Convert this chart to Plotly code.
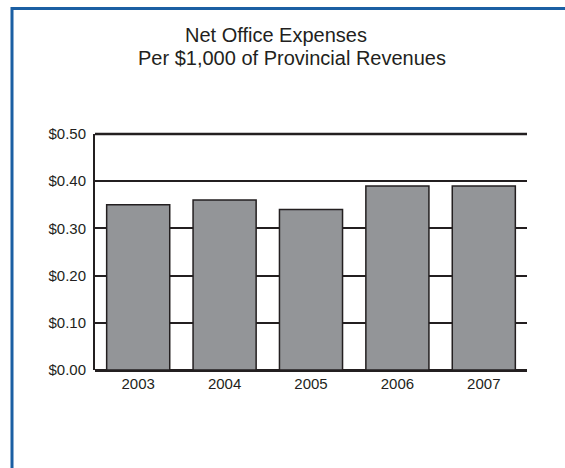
import plotly.graph_objects as go

# Net office expenses per $1,000 of provincial revenues
years = ["2003", "2004", "2005", "2006", "2007"]
expense_per_1000 = [0.35, 0.36, 0.34, 0.39, 0.39]
y_ticks = [0.0, 0.1, 0.2, 0.3, 0.4, 0.5]
y_tick_labels = ["$0.00", "$0.10", "$0.20", "$0.30", "$0.40", "$0.50"]

W, H = 565, 468
ML, MR, MT, MB = 95, 38, 134, 98
PW, PH = W - ML - MR, H - MT - MB

INK = "#231f20"
BLUE = "#1b5fa3"
FONT = "Liberation Sans, Arial, sans-serif"


def px_to_paper_x(px):
    return (px - ML) / PW


def px_to_paper_y(py):
    return (H - MB - py) / PH


fig = go.Figure(
    go.Bar(
        x=years,
        y=expense_per_1000,
        marker=dict(color="#939598", line=dict(color=INK, width=1.5)),
        width=0.73,
    )
)

fig.update_layout(
    width=W,
    height=H,
    margin=dict(l=ML, r=MR, t=MT, b=MB, pad=0),
    paper_bgcolor="white",
    plot_bgcolor="white",
    showlegend=False,
    font=dict(family=FONT, color=INK),
    xaxis=dict(
        type="category",
        showgrid=False,
        showline=False,
        ticks="",
        ticklabelstandoff=3,
        tickfont=dict(size=15, color=INK),
        fixedrange=True,
    ),
    yaxis=dict(
        range=[0, 0.5],
        tickvals=y_ticks,
        ticktext=y_tick_labels,
        showgrid=True,
        gridcolor=INK,
        gridwidth=2,
        zeroline=True,
        zerolinecolor=INK,
        zerolinewidth=3,
        showline=True,
        linecolor=INK,
        linewidth=2,
        ticks="",
        ticklabelstandoff=4,
        tickfont=dict(size=15, color=INK),
        layer="below traces",
        fixedrange=True,
    ),
    shapes=[
        # top gridline at the upper end of the range
        dict(type="line", xref="paper", yref="paper", x0=0, x1=1, y0=1, y1=1,
             line=dict(color=INK, width=2.5), layer="above"),
        # blue page frame along the top and left
        dict(type="line", xref="paper", yref="paper",
             x0=px_to_paper_x(12), x1=px_to_paper_x(W + 5),
             y0=px_to_paper_y(8.5), y1=px_to_paper_y(8.5),
             line=dict(color=BLUE, width=3)),
        dict(type="line", xref="paper", yref="paper",
             x0=px_to_paper_x(12), x1=px_to_paper_x(12),
             y0=px_to_paper_y(7), y1=px_to_paper_y(H + 5),
             line=dict(color=BLUE, width=3)),
    ],
    annotations=[
        dict(text="Net Office Expenses", xref="paper", yref="paper",
             x=px_to_paper_x(276), y=px_to_paper_y(35),
             xanchor="center", yanchor="middle", showarrow=False,
             font=dict(size=20, color=INK)),
        dict(text="Per $1,000 of Provincial Revenues", xref="paper", yref="paper",
             x=px_to_paper_x(292), y=px_to_paper_y(58),
             xanchor="center", yanchor="middle", showarrow=False,
             font=dict(size=20, color=INK)),
    ],
)

fig.write_html("out.html")
